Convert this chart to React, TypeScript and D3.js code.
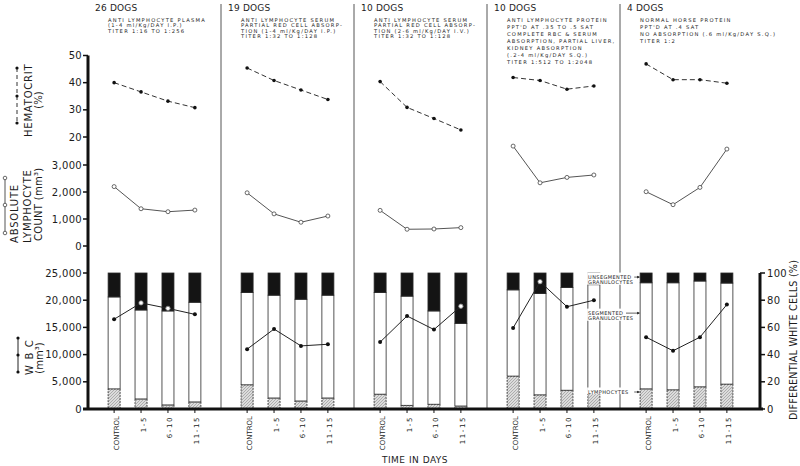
import React from "react";
import * as d3 from "d3";

// groups of dogs (one panel each)
const groups = ["26 DOGS", "19 DOGS", "10 DOGS", "10 DOGS", "4 DOGS"];
const treatments = [
  ["ANTI LYMPHOCYTE PLASMA", "(1-4 ml/Kg/DAY I.P.)", "TITER 1:16 TO 1:256"],
  ["ANTI LYMPHOCYTE SERUM", "PARTIAL RED CELL ABSORP-", "TION (1-4 ml/Kg/DAY I.P.)", "TITER 1:32 TO 1:128"],
  ["ANTI LYMPHOCYTE SERUM", "PARTIAL RED CELL ABSORP-", "TION (2-6 ml/Kg/DAY I.V.)", "TITER 1:32 TO 1:128"],
  [
    "ANTI LYMPHOCYTE PROTEIN",
    "PPT'D AT .35 TO .5 SAT",
    "COMPLETE RBC & SERUM",
    "ABSORPTION, PARTIAL LIVER,",
    "KIDNEY ABSORPTION",
    "(.2-4 ml/Kg/DAY S.Q.)",
    "TITER 1:512 TO 1:2048"
  ],
  ["NORMAL HORSE PROTEIN", "PPT'D AT .4 SAT", "NO ABSORPTION (.6 ml/Kg/DAY S.Q.)", "TITER 1:2"]
];
const periods = ["CONTROL", "1-5", "6-10", "11-15"];

// hematocrit (%)
const hematocrit = [
  [40.0, 36.6, 33.2, 30.8],
  [45.4, 40.8, 37.3, 33.8],
  [40.4, 30.9, 26.8, 22.6],
  [41.9, 40.8, 37.6, 38.8],
  [46.9, 41.1, 41.1, 39.8]
];
// absolute lymphocyte count (mm3)
const lymphocyteCount = [
  [2200, 1380, 1270, 1330],
  [1970, 1190, 880, 1110],
  [1320, 620, 630, 680],
  [3700, 2340, 2540, 2630],
  [2010, 1530, 2170, 3590]
];
// white blood cells (mm3)
const wbc = [
  [16500, 19500, 18500, 17400],
  [11000, 14700, 11600, 11900],
  [12300, 17100, 14600, 18900],
  [14900, 23400, 18800, 20000],
  [13200, 10700, 13200, 19200]
];
// differential white cells (%)
const lymphocytePct = [
  [14.8, 7.4, 3.0, 5.2],
  [17.8, 8.1, 5.9, 8.1],
  [10.9, 2.7, 3.5, 2.2],
  [24.2, 10.4, 13.8, 14.1],
  [14.8, 14.1, 16.3, 18.3]
];
const segmentedPct = [
  [67.6, 65.4, 69.1, 73.3],
  [67.9, 75.6, 74.8, 75.6],
  [74.8, 80.3, 68.6, 60.8],
  [63.4, 74.6, 75.6, 77.3],
  [78.0, 78.7, 77.8, 74.3]
];
const unsegmentedPct = [
  [17.6, 27.2, 27.9, 21.5],
  [14.3, 16.3, 19.3, 16.3],
  [14.3, 17.0, 27.9, 37.0],
  [12.4, 15.0, 10.6, 8.6],
  [7.2, 7.2, 5.9, 7.4]
];

const hctTicks = [20, 30, 40, 50];
const lymTicks = [0, 1000, 2000, 3000];
const wbcTicks = [0, 5000, 10000, 15000, 20000, 25000];
const pctTicks = [0, 20, 40, 60, 80, 100];

const FONT = "'DejaVu Sans', sans-serif";
const INK = "#1c1c1c";

const panelX = d3.scaleBand<number>().domain(d3.range(groups.length)).range([88, 753]);
const periodX = d3.scalePoint<string>().domain(periods).range([0, panelX.bandwidth()]).padding(0.97);
const hctY = d3.scaleLinear().domain([20, 50]).range([137, 55.5]);
const lymY = d3.scaleLinear().domain([0, 3000]).range([246, 165]);
const wbcY = d3.scaleLinear().domain([0, 25000]).range([409, 273]);
const pctY = d3.scaleLinear().domain([0, 100]).range([409, 273]);

const cx = (p: number, i: number) => (panelX(p) as number) + (periodX(periods[i]) as number);
const fmt = d3.format(",");
const BAR_W = 12;

const stack = d3.stack<any>().keys(["lym", "seg", "unseg"]);

function RotText(props: { x: number; y: number; size: number; anchor: string; ls?: number; children: any }) {
  return (
    <text
      transform={`translate(${props.x},${props.y}) rotate(-90)`}
      fontSize={props.size}
      textAnchor={props.anchor}
      letterSpacing={props.ls || 0}
      fill={INK}
      fontFamily={FONT}
    >
      {props.children}
    </text>
  );
}

export default function App() {
  const legendX = cx(4, 0) - BAR_W / 2;

  return (
    <svg
      width={800}
      height={466}
      style={{ position: "absolute", left: 0, top: 0, background: "#fff" }}
      fontFamily={FONT}
    >
      <defs>
        <pattern id="hatch" width={3} height={3} patternUnits="userSpaceOnUse">
          <rect width={3} height={3} fill="#dcdcdc" />
          <path d="M0,3 L3,0" stroke="#999" strokeWidth={0.7} />
        </pattern>
      </defs>

      {/* panel dividers */}
      {groups.slice(1).map((g, k) => (
        <line key={k} x1={panelX(k + 1)} x2={panelX(k + 1)} y1={4} y2={409} stroke="#555" strokeWidth={1} />
      ))}

      {/* headers */}
      {groups.map((g, p) => {
        const x0 = (panelX(p) as number) + 7;
        const gap = p < 3 ? 5.6 : 7;
        return (
          <g key={p} fill={INK}>
            <text x={x0} y={11} fontSize={9} letterSpacing={0.2}>{g}</text>
            {treatments[p].map((t, j) => (
              <text key={j} x={x0 + 13} y={21.5 + j * gap} fontSize={5.2} letterSpacing={1.25}>{t}</text>
            ))}
          </g>
        );
      })}

      {/* bars */}
      {groups.map((g, p) => {
        const rows = periods.map((per, i) => ({
          lym: lymphocytePct[p][i],
          seg: segmentedPct[p][i],
          unseg: unsegmentedPct[p][i]
        }));
        const series = stack(rows);
        return (
          <g key={p}>
            {series.map(s =>
              s.map((d, i) => (
                <rect
                  key={s.key + i}
                  x={cx(p, i) - BAR_W / 2}
                  width={BAR_W}
                  y={pctY(d[1])}
                  height={pctY(d[0]) - pctY(d[1])}
                  fill={s.key === "lym" ? "url(#hatch)" : s.key === "seg" ? "#fff" : "#141414"}
                  stroke="#2a2a2a"
                  strokeWidth={0.8}
                  strokeDasharray={s.key === "lym" ? "2,1" : undefined}
                />
              ))
            )}
          </g>
        );
      })}

      {/* lines */}
      {groups.map((g, p) => {
        const line = d3.line<number>().x((d, i) => cx(p, i));
        return (
          <g key={p}>
            <path d={line.y(d => hctY(d))(hematocrit[p]) || ""} fill="none" stroke="#333" strokeWidth={1} strokeDasharray="5,3" />
            {hematocrit[p].map((v, i) => (
              <circle key={i} cx={cx(p, i)} cy={hctY(v)} r={1.8} fill="#111" />
            ))}
            <path d={line.y(d => lymY(d))(lymphocyteCount[p]) || ""} fill="none" stroke="#555" strokeWidth={1} />
            {lymphocyteCount[p].map((v, i) => (
              <circle key={i} cx={cx(p, i)} cy={lymY(v)} r={2} fill="#fff" stroke="#444" strokeWidth={0.8} />
            ))}
            <path d={line.y(d => wbcY(d))(wbc[p]) || ""} fill="none" stroke="#222" strokeWidth={1} />
            {wbc[p].map((v, i) => {
              const onBlack = wbcY(v) < pctY(100 - unsegmentedPct[p][i]);
              return (
                <circle
                  key={i}
                  cx={cx(p, i)}
                  cy={wbcY(v)}
                  r={onBlack ? 2.2 : 2}
                  fill={onBlack ? "#fff" : "#111"}
                  stroke={onBlack ? "#777" : "none"}
                  strokeWidth={0.8}
                />
              );
            })}
          </g>
        );
      })}

      {/* left axis */}
      <line x1={88} x2={88} y1={hctY(50)} y2={410} stroke="#111" strokeWidth={3} />
      {hctTicks.map(t => (
        <g key={"h" + t}>
          <line x1={83} x2={88} y1={hctY(t)} y2={hctY(t)} stroke="#111" strokeWidth={1.5} />
          <text x={82} y={hctY(t)} dy="0.36em" textAnchor="end" fontSize={10} letterSpacing={0.3} fill={INK}>{t}</text>
        </g>
      ))}
      {lymTicks.map(t => (
        <g key={"l" + t}>
          <line x1={83} x2={88} y1={lymY(t)} y2={lymY(t)} stroke="#111" strokeWidth={1.5} />
          <text x={82} y={lymY(t)} dy="0.36em" textAnchor="end" fontSize={10} letterSpacing={0.3} fill={INK}>{fmt(t)}</text>
        </g>
      ))}
      {wbcTicks.map(t => (
        <g key={"w" + t}>
          <line x1={83} x2={88} y1={wbcY(t)} y2={wbcY(t)} stroke="#111" strokeWidth={1.5} />
          <text x={82} y={wbcY(t)} dy="0.36em" textAnchor="end" fontSize={10} letterSpacing={0.3} fill={INK}>{fmt(t)}</text>
        </g>
      ))}

      {/* right axis */}
      <line x1={760} x2={760} y1={pctY(100)} y2={410} stroke="#111" strokeWidth={3} />
      {pctTicks.map(t => (
        <g key={"p" + t}>
          <line x1={760} x2={765} y1={pctY(t)} y2={pctY(t)} stroke="#111" strokeWidth={1.5} />
          <text x={767} y={pctY(t)} dy="0.36em" fontSize={10} letterSpacing={0.3} fill={INK}>{t}</text>
        </g>
      ))}

      {/* bottom axis */}
      <line x1={83} x2={763} y1={409} y2={409} stroke="#111" strokeWidth={3} />
      {groups.map((g, p) =>
        periods.map((per, i) => (
          <g key={p + per}>
            <line x1={cx(p, i)} x2={cx(p, i)} y1={409} y2={413} stroke="#111" strokeWidth={1} />
            <RotText x={cx(p, i) + 4.5} y={416} size={7} anchor="end" ls={i === 0 ? 0 : 1.6}>{per}</RotText>
          </g>
        ))
      )}
      <text x={415} y={463} textAnchor="middle" fontSize={9} letterSpacing={0.5} fill={INK}>TIME IN DAYS</text>

      {/* y labels with legend markers */}
      <line x1={17} x2={17} y1={68} y2={123} stroke="#333" strokeWidth={1} strokeDasharray="4,3" />
      {[68, 96, 123].map(y => <circle key={y} cx={17} cy={y} r={1.6} fill="#111" />)}
      <RotText x={31.5} y={137} size={10} anchor="start" ls={0.8}>HEMATOCRIT</RotText>
      <RotText x={42} y={100} size={10} anchor="middle">(%)</RotText>

      <line x1={5} x2={5} y1={178} y2={233} stroke="#555" strokeWidth={1} />
      {[178, 205, 233].map(y => <circle key={y} cx={5} cy={y} r={1.8} fill="#fff" stroke="#444" strokeWidth={0.8} />)}
      <RotText x={18} y={243} size={10} anchor="start" ls={0.8}>ABSOLUTE</RotText>
      <RotText x={31} y={243} size={10} anchor="start" ls={0.8}>LYMPHOCYTE</RotText>
      <RotText x={42} y={241} size={10} anchor="start" ls={0.3}>COUNT (mm³)</RotText>

      <line x1={18} x2={18} y1={338} y2={372} stroke="#222" strokeWidth={1} />
      {[338, 355, 372].map(y => <circle key={y} cx={18} cy={y} r={1.6} fill="#111" />)}
      <RotText x={33} y={357} size={10} anchor="middle" ls={1.2}>W B C</RotText>
      <RotText x={43} y={358} size={10} anchor="middle">(mm³)</RotText>

      <RotText x={797} y={340} size={9.6} anchor="middle" ls={0.2}>DIFFERENTIAL WHITE CELLS (%)</RotText>

      {/* segment annotations */}
      {[
        { y: pctY(97), lines: ["UNSEGMENTED", "GRANULOCYTES"] },
        { y: pctY(70.5), lines: ["SEGMENTED", "GRANULOCYTES"] },
        { y: pctY(12.5), lines: ["LYMPHOCYTES"] }
      ].map((a, k) => {
        const tx = legendX - 52;
        const endText = tx + a.lines[0].length * 4.1 + 1;
        return (
          <g key={k} fill={INK}>
            <rect x={tx - 1} y={a.y - 4.5} width={endText - tx + 1} height={a.lines.length * 5.6 + 1} fill="#fff" />
            {a.lines.map((l, j) => (
              <text key={j} x={tx} y={a.y + 1.8 + j * 5.4} fontSize={5} letterSpacing={0.4}>{l}</text>
            ))}
            <line x1={endText} x2={legendX - 1} y1={a.y} y2={a.y} stroke="#222" strokeWidth={0.7} />
            <path d={`M${legendX},${a.y} l-3,-1.3 l0,2.6 z`} fill="#222" />
          </g>
        );
      })}
    </svg>
  );
}
